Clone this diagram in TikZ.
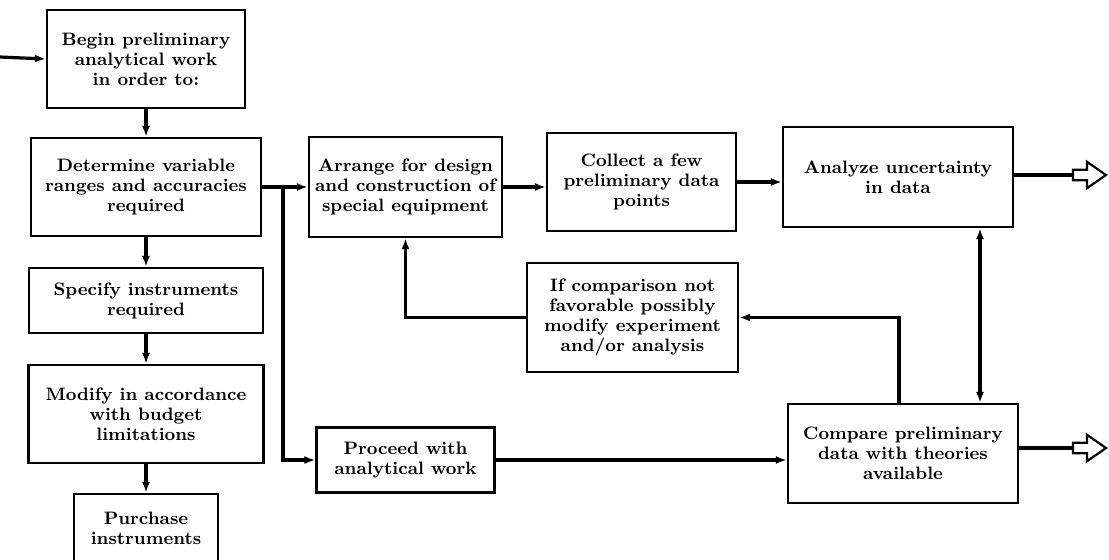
\documentclass[tikz,border=0pt]{standalone}
\usepackage{amsmath}
\usepackage{tikz}
\usetikzlibrary{arrows.meta, positioning}
\tikzset{>={Latex[width=4pt,length=5.5pt]}}
\tikzset{
  box/.style = {draw, line width=1.1pt, align=center, inner sep=2pt,
                font=\fontsize{9}{10}\selectfont\bfseries},
  hollow/.style = {line width=1.1pt, line join=miter},
}
% open block arrow starting at the given point
\newcommand{\openarrow}[1]{\draw[hollow] (#1) -- ++(0,2.6pt) -- ++(7pt,0) -- ++(0,4pt) -- ++(9.5pt,-6.6pt) -- ++(-9.5pt,-6.6pt) -- ++(0,4pt) -- ++(-7pt,0) -- cycle;}

\begin{document}
\begin{tikzpicture}[on grid, line width=1.6pt]
		\useasboundingbox (0,0) rectangle (554.5pt,-279.5pt);
		\node (begin) [box, minimum width=99pt, minimum height=49pt] at (73pt,-29.5pt) {Begin preliminary\\ analytical work\\ in order to:};
		\node (det) [box, below = 64pt of begin, minimum width=115pt, minimum height=49pt] {Determine variable\\ ranges and accuracies\\ required};
		\node (spec) [box, below = 56.75pt of det, minimum width=117pt, minimum height=32.5pt] {Specify instruments\\ required};
		\node (mod) [box, below = 56.75pt of spec, minimum width=117.5pt, minimum height=49pt] {Modify in accordance\\ with budget\\ limitations};
		\node (pur) [box, below = 57pt of mod, minimum width=72pt, minimum height=34pt] {Purchase\\ instruments};
		\node (arr) [box, right = 129.75pt of det, minimum width=96.5pt, minimum height=50pt] {Arrange for design\\ and construction of\\ special equipment};
		\node (col) [box, above right = 2.5pt and 118pt of arr, minimum width=94.5pt, minimum height=49pt] {Collect a few\\ preliminary data\\ points};
		\node (ana) [box, above right = 2.5pt and 128.25pt of col, minimum width=115pt, minimum height=50pt] {Analyze uncertainty\\ in data};
		\node (ifc) [box, below left = 67.75pt and 4.5pt of col, minimum width=105.5pt, minimum height=54.5pt] {If comparison not\\ favorable possibly\\ modify experiment\\ and/or analysis};
		\node (proc) [box, below = 136.5pt of arr, minimum width=89pt, minimum height=32.5pt] {Proceed with\\ analytical work};
		\node (comp) [box, below right = 138.25pt and 2.5pt of ana, minimum width=115pt, minimum height=49.5pt] {Compare preliminary\\ data with theories\\ available};
		\coordinate (in) at (0pt,-28.5pt);
		\coordinate (br) at (141.5pt,-93.5pt);
		\coordinate (outA) at (536.5pt,-87.5pt);
		\coordinate (outC) at (536.5pt,-224pt);
		% left column
		\draw[->] (in) -- (begin.west);
		\draw[->] (begin.south) -- (det.north);
		\draw[->] (det.south) -- (spec.north);
		\draw[->] (spec.south) -- (mod.north);
		\draw[->] (mod.south) -- (pur.north);
		% main line
		\draw[->] (det.east) -- (arr.west);
		\draw[->] (br) |- (proc.west);
		\draw[->] (arr.east) -- (arr.east -| col.west);
		\draw[->] (col.east) -- (col.east -| ana.west);
		\draw[->] (proc.east) -- (proc.east -| comp.west);
		% feedback
		\draw[<->] ([xshift=41pt]ana.south) -- ([xshift=41pt]ana.south |- comp.north);
		\draw[->] ([xshift=-2pt]comp.north) |- (ifc.east);
		\draw[->] (ifc.west) -| (arr.south);
		% outputs
		\draw (ana.east |- outA) -- (outA);
		\draw (comp.east |- outC) -- (outC);
		\openarrow{outA}
		\openarrow{outC}
\end{tikzpicture}
\end{document}
